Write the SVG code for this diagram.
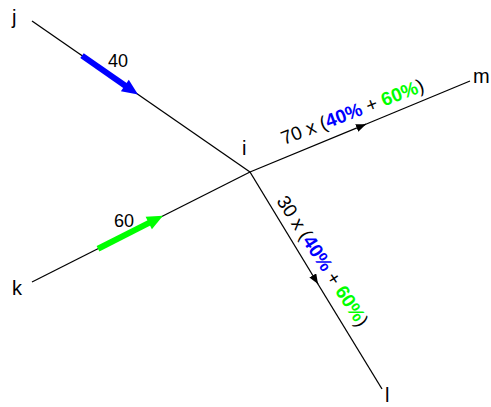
<svg xmlns="http://www.w3.org/2000/svg" width="491" height="407" viewBox="0 0 491 407">
<style>
text{font-family:"Liberation Sans",Arial,sans-serif;fill:#000}
.lbl{font-size:20px}
.num{font-size:18px}
.flow{font-size:19px}
.b{font-weight:bold;fill:#0000ff}
.g{font-weight:bold;fill:#00ff00}
.ln{stroke:#000;stroke-width:1.3;fill:none}
</style>
<defs>
<marker id="ah" viewBox="0 0 10 8" refX="10" refY="4" markerWidth="10" markerHeight="8" markerUnits="userSpaceOnUse" orient="auto">
<path d="M0,0 L10,4 L0,8 Z" fill="#000"/>
</marker>
</defs>
<rect width="491" height="407" fill="#fff"/>
<g id="connectors">
<line class="ln" x1="32" y1="21" x2="250" y2="172"/>
<line class="ln" x1="32" y1="282" x2="250" y2="172"/>
<line class="ln" x1="250" y1="172" x2="366" y2="124.2" marker-end="url(#ah)"/>
<line class="ln" x1="364" y1="125" x2="470" y2="81"/>
<line class="ln" x1="250" y1="172" x2="318" y2="284" marker-end="url(#ah)"/>
<line class="ln" x1="317" y1="282.5" x2="382" y2="389"/>
<g id="flow-j">
<line x1="82" y1="55.6" x2="126" y2="86.2" stroke="#0000ff" stroke-width="6"/>
<polygon points="138,94.5 120.9,91.2 128.8,79.7" fill="#0000ff"/>
</g>
<g id="flow-k">
<line x1="98" y1="248.7" x2="150" y2="222.4" stroke="#00ff00" stroke-width="6"/>
<polygon points="163,215.8 151.9,229.3 145.6,216.8" fill="#00ff00"/>
</g>
</g>
<g id="node-j"><text class="lbl" x="12" y="24">j</text></g>
<g id="node-k"><text class="lbl" x="12" y="295">k</text></g>
<g id="node-i"><text class="lbl" x="242" y="155">i</text></g>
<g id="node-m"><text class="lbl" x="473" y="83">m</text></g>
<g id="node-l"><text class="lbl" x="385" y="402">l</text></g>
<g id="labels">
<text class="num" x="108" y="67">40</text>
<text class="num" x="114" y="227">60</text>
<text class="flow" transform="translate(284,145) rotate(-21)">70 x (<tspan class="b">40%</tspan> + <tspan class="g">60%</tspan>)</text>
<text class="flow" transform="translate(276,201) rotate(57)">30 x (<tspan class="b">40%</tspan> + <tspan class="g">60%</tspan>)</text>
</g>
</svg>
